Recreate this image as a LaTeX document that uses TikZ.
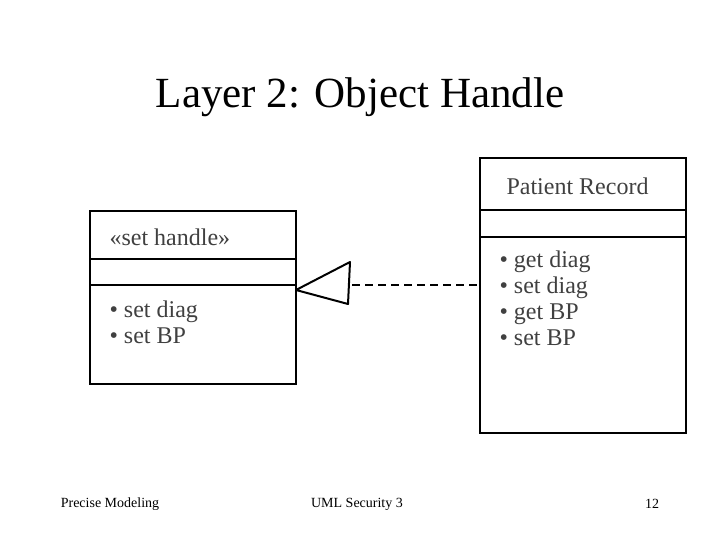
\documentclass[tikz,border=0pt]{standalone}
\usepackage{fontspec}
\setmainfont{Liberation Serif}
\begin{document}
\begin{tikzpicture}[x=1pt,y=-1pt,
  box/.style={draw,line width=2pt},
  lbl/.style={anchor=west,font=\fontsize{24}{26}\selectfont,text=black!75},
  foot/.style={font=\fontsize{14}{16}\selectfont}]
\useasboundingbox (0,0) rectangle (720,540);
\node (title) at (360,97) {\fontsize{43}{46}\selectfont Layer 2: Object Handle};
% left class
\draw[box] (90,211) rectangle (296,384);
\draw[line width=2pt] (90,259) -- (296,259) (90,285) -- (296,285);
\node[lbl] (lt) at (106,237) {\textless\textless set handle\textgreater\textgreater};
\node[lbl,align=left,font=\fontsize{24}{26}\selectfont] (la) at (106,322) {• set diag\\• set BP};
% right class
\draw[box] (480,158) rectangle (686,433);
\draw[line width=2pt] (480,210) -- (686,210) (480,237) -- (686,237);
\node[lbl] (rt) at (503,186) {Patient Record};
\node[lbl,align=left,font=\fontsize{24}{26}\selectfont] (ra) at (496,298) {• get diag\\• set diag\\• get BP\\• set BP};
% realization arrow
\coordinate (tip) at (296,290);
\coordinate (t1) at (350,262);
\coordinate (t2) at (348,304);
\coordinate (d0) at (352,285);
\coordinate (d1) at (480,285);
\draw[line width=2pt,line join=round] (tip) -- (t1) -- (t2) -- cycle;
\draw[line width=2pt,dash pattern=on 8pt off 5pt] (d0) -- (d1);
\node[foot] (f1) at (110,504) {Precise Modeling};
\node[foot] (f2) at (357,504) {UML Security 3};
\node[foot] (f3) at (652,504) {12};
\end{tikzpicture}
\end{document}
